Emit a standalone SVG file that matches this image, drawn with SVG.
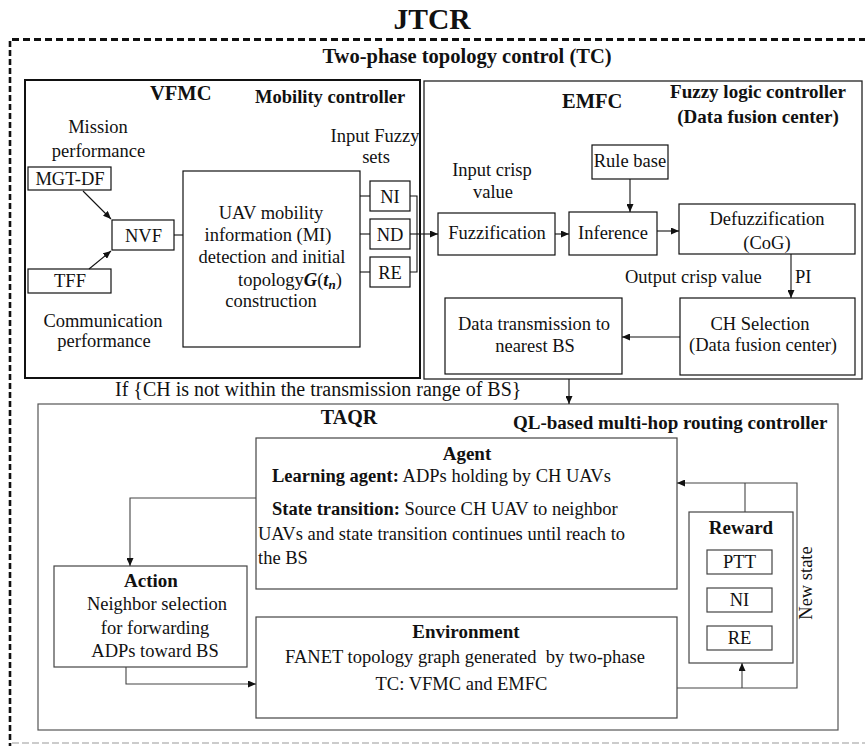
<svg xmlns="http://www.w3.org/2000/svg" width="865" height="746" viewBox="0 0 865 746">
  <style>
    .t { font-family: "Liberation Serif", "Times New Roman", serif; font-size: 18.5px; fill: #111; }
    .b { font-weight: bold; }
    .m { text-anchor: middle; }
    .h { font-size: 20.5px; font-weight: bold; }
    .s19 { font-size: 19px; }
    .s20 { font-size: 20px; }
    .box { fill: #fff; stroke: #111; stroke-width: 1.2; }
    .gbox { fill: #fff; stroke: #444; stroke-width: 1.2; }
    .conn { fill: none; stroke: #111; stroke-width: 1.1; }
    .gconn { fill: none; stroke: #444; stroke-width: 1.1; }
  </style>
  <defs>
    <marker id="arr" viewBox="0 0 8 7" markerWidth="8" markerHeight="7" refX="8" refY="3.5" orient="auto" markerUnits="userSpaceOnUse">
      <path d="M0,0 L8,3.5 L0,7 z" fill="#111"/>
    </marker>
  </defs>

  <rect width="865" height="746" fill="#fff"/>

  <!-- outer dashed frame of the JTCR scheme -->
  <g id="frame">
    <line x1="12" y1="39.5" x2="865" y2="39.5" stroke="#111" stroke-width="3" stroke-dasharray="7 4"/>
    <line x1="10" y1="41" x2="10" y2="746" stroke="#111" stroke-width="2.6" stroke-dasharray="6 3"/>
    <line x1="12" y1="743" x2="865" y2="743" stroke="#999" stroke-width="1" stroke-dasharray="7 3"/>
    <text class="t b m" x="432" y="29" style="font-size:29.5px">JTCR</text>
    <text class="t m h" x="467" y="63">Two-phase topology control (TC)</text>
  </g>

  <!-- VFMC: mobility controller -->
  <g id="vfmc">
    <rect x="25" y="80" width="395" height="298" fill="#fff" stroke="#111" stroke-width="2"/>
    <text class="t h" x="150" y="100">VFMC</text>
    <text class="t b" x="255" y="103">Mobility controller</text>
    <text class="t m" x="98" y="133">Mission</text>
    <text class="t m" x="98.5" y="157">performance</text>
    <text class="t m" x="103" y="327">Communication</text>
    <text class="t m" x="104" y="347">performance</text>
    <text class="t m" x="375" y="142">Input Fuzzy</text>
    <text class="t m" x="376" y="163">sets</text>
  </g>
  <g id="mgt-df">
    <rect class="box" x="28" y="167" width="83" height="23" stroke-width="1.5"/>
    <text class="t m" x="70" y="185">MGT-DF</text>
  </g>
  <g id="tff">
    <rect class="box" x="28" y="269" width="83" height="24" stroke-width="1.5"/>
    <text class="t m" x="70" y="287">TFF</text>
  </g>
  <g id="nvf">
    <rect class="box" x="112" y="220" width="62" height="30" stroke-width="1.5"/>
    <text class="t m" x="143.5" y="242">NVF</text>
  </g>
  <g id="mi-detection">
    <rect class="box" x="183" y="171" width="177" height="176"/>
    <text class="t m" x="271" y="219">UAV mobility</text>
    <text class="t m" x="268" y="241">information (MI)</text>
    <text class="t m" x="272" y="263">detection and initial</text>
    <text class="t" x="238" y="286">topology<tspan font-weight="bold" font-style="italic">G</tspan>(<tspan font-weight="bold" font-style="italic">t</tspan><tspan font-weight="bold" font-style="italic" font-size="13px" dy="3">n</tspan><tspan dy="-3">)</tspan></text>
    <text class="t m" x="271" y="307">construction</text>
  </g>
  <g id="set-ni">
    <rect class="box" x="370" y="181" width="40" height="30"/>
    <text class="t m" x="390" y="203">NI</text>
  </g>
  <g id="set-nd">
    <rect class="box" x="370" y="219" width="40" height="30"/>
    <text class="t m" x="390" y="241">ND</text>
  </g>
  <g id="set-re">
    <rect class="box" x="370" y="257" width="40" height="30"/>
    <text class="t m" x="390" y="279">RE</text>
  </g>

  <!-- EMFC: fuzzy logic controller -->
  <g id="emfc">
    <rect x="424" y="81" width="438" height="298" fill="none" stroke="#222" stroke-width="1.3"/>
    <text class="t h" x="562" y="108">EMFC</text>
    <text class="t b m s19" x="758" y="98">Fuzzy logic controller</text>
    <text class="t b m s19" x="758" y="123">(Data fusion center)</text>
    <text class="t m" x="492" y="176">Input crisp</text>
    <text class="t m" x="493" y="198">value</text>
    <text class="t" x="625" y="283">Output crisp value</text>
    <text class="t" x="795" y="283">PI</text>
  </g>
  <g id="rule-base">
    <rect class="box" x="592" y="145" width="76" height="34"/>
    <text class="t m" x="630" y="167">Rule base</text>
  </g>
  <g id="fuzzification">
    <rect class="box" x="438" y="213" width="117" height="42"/>
    <text class="t m" x="497" y="239">Fuzzification</text>
  </g>
  <g id="inference">
    <rect class="box" x="569" y="212" width="88" height="43"/>
    <text class="t m" x="613" y="239">Inference</text>
  </g>
  <g id="defuzzification">
    <rect class="box" x="679" y="204" width="176" height="50"/>
    <text class="t m" x="767" y="225">Defuzzification</text>
    <text class="t m" x="767" y="249">(CoG)</text>
  </g>
  <g id="ch-selection">
    <rect class="box" x="680" y="298" width="175" height="77"/>
    <text class="t m" x="760" y="330">CH Selection</text>
    <text class="t m" x="763" y="351">(Data fusion center)</text>
  </g>
  <g id="data-transmission">
    <rect class="box" x="445" y="298" width="177" height="76"/>
    <text class="t m" x="534" y="330">Data transmission to</text>
    <text class="t m" x="535" y="352">nearest BS</text>
  </g>

  <text id="condition" class="t" x="115" y="396" style="font-size:20px">If {CH is not within the transmission range of BS}</text>

  <!-- TAQR: QL-based multi-hop routing controller -->
  <g id="taqr">
    <rect x="38" y="404" width="800" height="326" fill="none" stroke="#555" stroke-width="1.2"/>
    <text class="t b m s20" x="349" y="424">TAQR</text>
    <text class="t b s19" x="513" y="429">QL-based multi-hop routing controller</text>
    <text class="t" x="806" y="583" transform="rotate(-90 806 583)" text-anchor="middle" dy="6">New state</text>
  </g>
  <g id="agent">
    <rect class="gbox" x="256" y="438" width="421" height="151"/>
    <text class="t b m s19" x="467" y="460">Agent</text>
    <text class="t" x="272" y="482"><tspan font-weight="bold">Learning agent:</tspan> ADPs holding by CH UAVs</text>
    <text class="t" x="272" y="515"><tspan font-weight="bold">State transition:</tspan> Source CH UAV to neighbor</text>
    <text class="t" x="258" y="540">UAVs and state transition continues until reach to</text>
    <text class="t" x="258" y="564">the BS</text>
  </g>
  <g id="action">
    <rect class="gbox" x="54" y="566" width="193" height="101"/>
    <text class="t b m s19" x="151" y="587">Action</text>
    <text class="t m" x="157" y="610">Neighbor selection</text>
    <text class="t m" x="155" y="634">for forwarding</text>
    <text class="t m" x="155" y="657">ADPs toward BS</text>
  </g>
  <g id="environment">
    <rect class="gbox" x="256" y="617" width="421" height="101"/>
    <text class="t b m s19" x="466" y="638">Environment</text>
    <text class="t" x="285" y="663" style="white-space:pre">FANET topology graph generated  by two-phase</text>
    <text class="t m" x="461.5" y="690">TC: VFMC and EMFC</text>
  </g>
  <g id="reward">
    <rect class="gbox" x="689" y="512" width="104" height="151"/>
    <text class="t b m s19" x="741" y="534">Reward</text>
    <rect class="gbox" x="707" y="550" width="65" height="24"/>
    <text class="t m" x="739.5" y="568">PTT</text>
    <rect class="gbox" x="707" y="588" width="65" height="24"/>
    <text class="t m" x="739.5" y="606">NI</text>
    <rect class="gbox" x="707" y="626" width="65" height="24"/>
    <text class="t m" x="739.5" y="644">RE</text>
  </g>

  <!-- connectors -->
  <g id="connectors">
    <line class="conn" x1="83" y1="191" x2="111" y2="219" marker-end="url(#arr)"/>
    <line class="conn" x1="89" y1="269" x2="111" y2="251" marker-end="url(#arr)"/>
    <line class="conn" x1="174" y1="235" x2="183" y2="235"/>
    <line class="conn" x1="360" y1="196" x2="370" y2="196"/>
    <line class="conn" x1="360" y1="234" x2="370" y2="234"/>
    <line class="conn" x1="360" y1="272" x2="370" y2="272"/>
    <path class="conn" d="M410,196 H417 V272 H410"/>
    <path class="conn" d="M410,234 H438" marker-end="url(#arr)"/>
    <path class="conn" d="M630,179 V212" marker-end="url(#arr)"/>
    <path class="conn" d="M555,234 H569" marker-end="url(#arr)"/>
    <path class="conn" d="M657,231 H679" marker-end="url(#arr)"/>
    <path class="conn" d="M791,254 V298" marker-end="url(#arr)"/>
    <path class="conn" d="M680,337 H622" marker-end="url(#arr)"/>
    <path class="conn" d="M569,379 V404" marker-end="url(#arr)"/>
    <path class="gconn" d="M256,498 H130 V566" marker-end="url(#arr)"/>
    <path class="gconn" d="M126,667 V684 H256" marker-end="url(#arr)"/>
    <path class="gconn" d="M677,688 H797 V483 H677" marker-end="url(#arr)"/>
    <path class="gconn" d="M745,483 V512"/>
    <path class="gconn" d="M742,688 V663" marker-end="url(#arr)"/>
  </g>
</svg>
